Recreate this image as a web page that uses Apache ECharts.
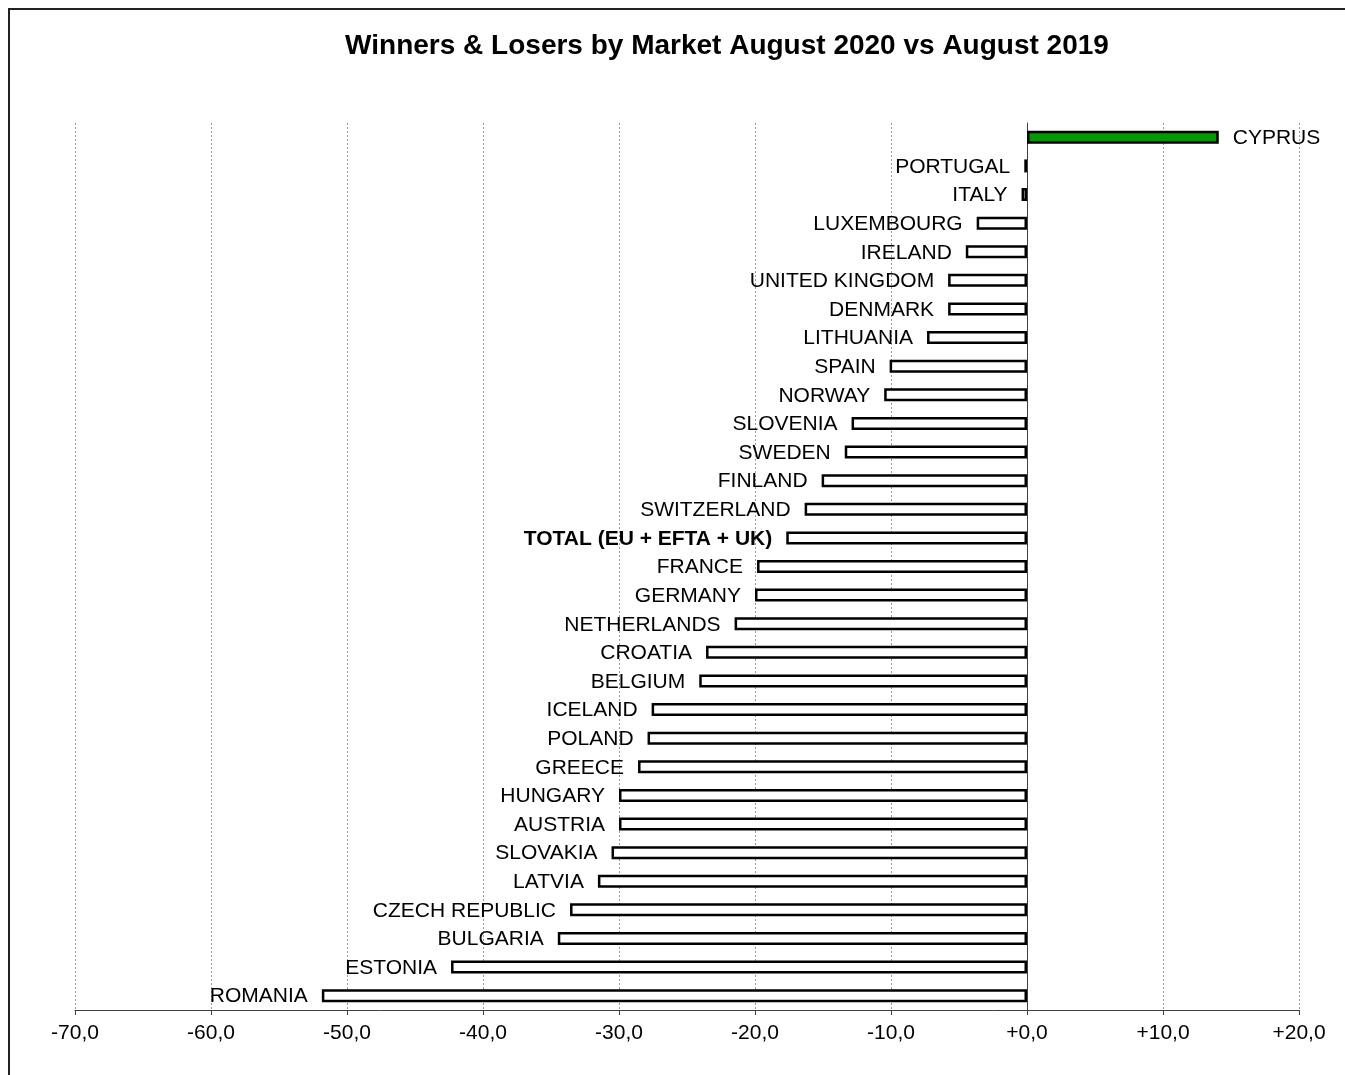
<html>
<head>
    <meta charset='utf-8' />
    <script src="https://cdn.jsdelivr.net/npm/echarts@6/dist/echarts.min.js"></script>
    <title>Winners & Losers by Market</title>
    <style>
        body {
            margin: 0;
            overflow: hidden;
            background: #fff;
        }
        #frame {
            position: absolute;
            left: 8px;
            top: 8px;
            width: 1345px;
            height: 1075px;
            border-left: 2px solid #222;
            border-top: 2px solid #222;
        }
        #chart {
            position: absolute;
            left: 0;
            top: 0;
            width: 1345px;
            height: 1075px;
        }
    </style>
</head>
<body>
    <div id="frame"></div>
    <div id="chart"></div>
    <script type="text/javascript">
        // markets, top to bottom
        var markets = ['CYPRUS', 'PORTUGAL', 'ITALY', 'LUXEMBOURG', 'IRELAND', 'UNITED KINGDOM', 'DENMARK',
            'LITHUANIA', 'SPAIN', 'NORWAY', 'SLOVENIA', 'SWEDEN', 'FINLAND', 'SWITZERLAND',
            'TOTAL (EU + EFTA + UK)', 'FRANCE', 'GERMANY', 'NETHERLANDS', 'CROATIA', 'BELGIUM',
            'ICELAND', 'POLAND', 'GREECE', 'HUNGARY', 'AUSTRIA', 'SLOVAKIA', 'LATVIA',
            'CZECH REPUBLIC', 'BULGARIA', 'ESTONIA', 'ROMANIA'];
        // % change Aug 2020 vs Aug 2019
        var change = [14.1, -0.2, -0.4, -3.7, -4.5, -5.8, -5.8,
            -7.35, -10.1, -10.5, -12.9, -13.4, -15.1, -16.35,
            -17.7, -19.85, -20.0, -21.5, -23.6, -24.1,
            -27.6, -27.9, -28.6, -30.0, -30.0, -30.55, -31.55,
            -33.6, -34.5, -42.35, -51.85];
        var xTicks = [-70, -60, -50, -40, -30, -20, -10, 0, 10, 20];
        var totalName = 'TOTAL (EU + EFTA + UK)';

        var font = '"Liberation Sans", Arial, sans-serif';

        var barData = markets.map(function(name, i) {
            var v = change[i];
            return {
                value: v,
                itemStyle: {
                    color: v > 0 ? '#009900' : '#ffffff'
                },
                label: {
                    position: v > 0 ? 'right' : 'left',
                    fontWeight: name === totalName ? 'bold' : 'normal'
                }
            };
        });

        var chart = echarts.init(document.getElementById('chart'));
        chart.setOption({
            backgroundColor: 'transparent',
            animation: false,
            title: {
                text: 'Winners & Losers by Market August 2020 vs August 2019',
                left: 722,
                top: 27,
                textAlign: 'center',
                textStyle: {
                    fontFamily: font,
                    fontSize: 28,
                    fontWeight: 'bold',
                    color: '#000'
                }
            },
            grid: {
                left: 75,
                right: 46,
                top: 123,
                bottom: 65,
                containLabel: false
            },
            xAxis: {
                type: 'value',
                min: xTicks[0],
                max: xTicks[xTicks.length - 1],
                interval: 10,
                axisLine: {
                    show: true,
                    lineStyle: { color: '#404040', width: 1 }
                },
                axisTick: {
                    show: true,
                    length: 5,
                    lineStyle: { color: '#404040' }
                },
                axisLabel: {
                    margin: 13,
                    fontFamily: font,
                    fontSize: 21,
                    color: '#000',
                    formatter: function(v) {
                        return (v >= 0 ? '+' : '') + v.toFixed(1).replace('.', ',');
                    }
                },
                splitLine: {
                    show: true,
                    lineStyle: { color: '#999', type: [2, 2], width: 1 }
                }
            },
            yAxis: {
                type: 'category',
                data: markets,
                inverse: true,
                axisLine: {
                    show: true,
                    onZero: true,
                    lineStyle: { color: '#404040', width: 1 }
                },
                axisTick: { show: false },
                axisLabel: { show: false },
                splitLine: { show: false }
            },
            series: [{
                type: 'bar',
                data: barData,
                barWidth: 13,
                itemStyle: {
                    borderColor: '#000',
                    borderWidth: 2.5
                },
                label: {
                    show: true,
                    distance: 14,
                    offset: [0, 1],
                    fontFamily: font,
                    fontSize: 21,
                    color: '#000',
                    formatter: function(p) {
                        return p.name;
                    }
                }
            }]
        });
    </script>
</body>
</html>
